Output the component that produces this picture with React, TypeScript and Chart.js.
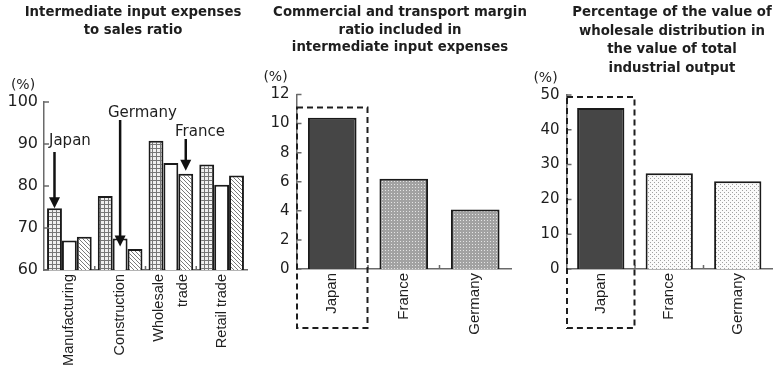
import React, { useEffect, useRef } from "react";
import { Chart, registerables } from "chart.js";

Chart.register(...registerables);

// ---- Panel 1: intermediate input expenses to sales ratio (%) ----
const sectors: (string | string[])[] = ["Manufacturing", "Construction", ["Wholesale", "trade"], "Retail trade"];
const ratioJapan = [74.7, 77.6, 90.8, 85.1];
const ratioGermany = [67.0, 67.5, 85.5, 80.3];
const ratioFrance = [67.9, 65.0, 82.9, 82.5];
const ratioTicks = [60, 70, 80, 90, 100];
const ratioTitle = ["Intermediate input expenses", "to sales ratio"];

// ---- Panel 2: commercial and transport margin ratio (%) ----
const countries = ["Japan", "France", "Germany"];
const marginRatio = [10.4, 6.2, 4.1];
const marginTicks = [0, 2, 4, 6, 8, 10, 12];
const marginTitle = ["Commercial and transport margin", "ratio included in", "intermediate input expenses"];

// ---- Panel 3: wholesale distribution share of total industrial output (%) ----
const shareOfOutput = [46.3, 27.5, 25.2];
const shareTicks = [0, 10, 20, 30, 40, 50];
const shareTitle = ["Percentage of the value of", "wholesale distribution in", "the value of total", "industrial output"];

const W = 774;
const H = 375;
const INK = "#1e1e1e";
const AXIS = "#6a6a6a";
const SANS = '"DejaVu Sans", "Liberation Sans", sans-serif';
const ARIAL = '"Liberation Sans", Arial, sans-serif';

function tile(ctx: CanvasRenderingContext2D, size: number, paint: (g: CanvasRenderingContext2D) => void) {
  const c = document.createElement("canvas");
  c.width = size;
  c.height = size;
  const g = c.getContext("2d")!;
  paint(g);
  return ctx.createPattern(c, "repeat")!;
}

const gridFill = (ctx: CanvasRenderingContext2D) =>
  tile(ctx, 4, (g) => {
    g.fillStyle = "#f0f0f0";
    g.fillRect(0, 0, 4, 4);
    g.fillStyle = "#777777";
    g.fillRect(0, 0, 4, 1);
    g.fillRect(0, 0, 1, 4);
  });

const hatchFill = (ctx: CanvasRenderingContext2D) =>
  tile(ctx, 4, (g) => {
    g.fillStyle = "#ffffff";
    g.fillRect(0, 0, 4, 4);
    g.fillStyle = "#7a7a7a";
    for (let i = 0; i < 4; i++) g.fillRect(i, i, 1, 1);
  });

const denseDots = (ctx: CanvasRenderingContext2D) =>
  tile(ctx, 3, (g) => {
    g.fillStyle = "#a2a2a2";
    g.fillRect(0, 0, 3, 3);
    g.fillStyle = "#e4e4e4";
    g.fillRect(1, 1, 1, 1);
  });

const sparseDots = (ctx: CanvasRenderingContext2D) =>
  tile(ctx, 4, (g) => {
    g.fillStyle = "#fafafa";
    g.fillRect(0, 0, 4, 4);
    g.fillStyle = "#a0a0a0";
    g.fillRect(0, 0, 1, 1);
    g.fillRect(2, 2, 1, 1);
  });

type Arrow = { ds: number; idx: number; label: string; textX: number; textY: number; tailY: number; tipOffset: number };
type Deco = {
  title: string[];
  titleX: number;
  titleY: number;
  titleGap: number;
  arrows?: Arrow[];
  box?: { idx: number; topValue: number; bottom: number };
};

// Multi-line category labels are centred on their tick (Chart.js starts the first line on it).
const centreMultiLineLabels = {
  id: "centreMultiLineLabels",
  beforeDraw(chart: any) {
    const xs = chart.scales.x;
    const items = xs.getLabelItems(chart.chartArea);
    if (items._centred) return;
    items._centred = true;
    items.forEach((it: any) => {
      if (Array.isArray(it.label) && it.label.length > 1) {
        const lh = it.font.lineHeight;
        it.options.translation[0] -= ((it.label.length - 1) * lh) / 2;
      }
    });
  },
};

function decoPlugin(d: Deco) {
  return {
    id: "deco",
    afterDraw(chart: any) {
      const { ctx, chartArea } = chart;
      const xs = chart.scales.x;
      const ys = chart.scales.y;
      ctx.save();

      // inward tick marks on both axes
      ctx.strokeStyle = AXIS;
      ctx.lineWidth = 1.5;
      ctx.beginPath();
      ys.ticks.forEach((t: any) => {
        const py = ys.getPixelForValue(t.value);
        ctx.moveTo(chartArea.left, py);
        ctx.lineTo(chartArea.left + 5, py);
      });
      const n = xs.ticks.length;
      for (let i = 1; i < n; i++) {
        const px = (xs.getPixelForValue(i - 1) + xs.getPixelForValue(i)) / 2;
        ctx.moveTo(px, chartArea.bottom);
        ctx.lineTo(px, chartArea.bottom - 4);
      }
      ctx.stroke();

      // unit label
      ctx.fillStyle = INK;
      ctx.font = `14px ${SANS}`;
      ctx.textAlign = "center";
      ctx.textBaseline = "middle";
      ctx.fillText("(%)", chartArea.left - 21, chartArea.top - 17);

      // panel title
      ctx.font = `bold 13.3px ${SANS}`;
      d.title.forEach((line, i) => ctx.fillText(line, d.titleX, d.titleY + i * d.titleGap));

      // dashed frame around a highlighted category
      if (d.box) {
        const bar = chart.getDatasetMeta(0).data[d.box.idx];
        const half = bar.x - chartArea.left - 0.5;
        const top = ys.getPixelForValue(d.box.topValue);
        ctx.strokeStyle = INK;
        ctx.lineWidth = 2;
        ctx.setLineDash([6, 4]);
        ctx.strokeRect(bar.x - half, top, half * 2, d.box.bottom - top);
        ctx.setLineDash([]);
      }

      // labelled arrows pointing at bars
      (d.arrows || []).forEach((a) => {
        const bar = chart.getDatasetMeta(a.ds).data[a.idx];
        const tip = bar.y + a.tipOffset;
        const head = 11;
        ctx.strokeStyle = "#111";
        ctx.fillStyle = "#111";
        ctx.lineWidth = 2.5;
        ctx.beginPath();
        ctx.moveTo(bar.x, a.tailY);
        ctx.lineTo(bar.x, tip - head + 1);
        ctx.stroke();
        ctx.beginPath();
        ctx.moveTo(bar.x - 5.5, tip - head);
        ctx.lineTo(bar.x + 5.5, tip - head);
        ctx.lineTo(bar.x, tip);
        ctx.closePath();
        ctx.fill();
        ctx.font = `15px ${SANS}`;
        ctx.textAlign = "left";
        ctx.textBaseline = "alphabetic";
        ctx.fillStyle = INK;
        ctx.fillText(a.label, a.textX, a.textY);
      });

      ctx.restore();
    },
  };
}

function yScale(ticks: number[], size: number, pad: number, width: number) {
  return {
    min: ticks[0],
    max: ticks[ticks.length - 1],
    beginAtZero: false,
    ticks: { stepSize: ticks[1] - ticks[0], padding: pad, color: INK, font: { family: SANS, size } },
    grid: { display: false, drawTicks: false },
    border: { display: true, color: AXIS, width: 1.5 },
    afterFit: (s: any) => {
      s.width = width;
    },
  };
}

function xScale(size: number, lineHeight: number, height: number) {
  return {
    ticks: {
      minRotation: 90,
      maxRotation: 90,
      autoSkip: false,
      padding: 4,
      color: INK,
      font: { family: ARIAL, size, lineHeight },
    },
    grid: { display: false, drawTicks: false },
    border: { display: true, color: AXIS, width: 1.5 },
    afterFit: (s: any) => {
      s.height = height;
    },
  };
}

const barStyle = { borderColor: "#1a1a1a", borderWidth: 2 };

function buildRatio(canvas: HTMLCanvasElement) {
  const ctx = canvas.getContext("2d")!;
  const base = ratioTicks[0];
  return new Chart(ctx, {
    type: "bar",
    data: {
      labels: sectors,
      datasets: [
        { label: "Japan", data: ratioJapan, base, backgroundColor: gridFill(ctx), ...barStyle },
        { label: "Germany", data: ratioGermany, base, backgroundColor: "#ffffff", ...barStyle },
        { label: "France", data: ratioFrance, base, backgroundColor: hatchFill(ctx), ...barStyle },
      ],
    },
    options: {
      responsive: false,
      animation: false,
      devicePixelRatio: 1,
      layout: { padding: { left: 0, right: W - 247, top: 102, bottom: 0 } },
      datasets: { bar: { categoryPercentage: 0.88, barPercentage: 1 } },
      plugins: { legend: { display: false }, tooltip: { enabled: false } },
      scales: { x: xScale(14.5, 1.65, H - 270), y: yScale(ratioTicks, 16, 6, 44) },
    } as any,
    plugins: [
      centreMultiLineLabels,
      decoPlugin({
        title: ratioTitle,
        titleX: 133,
        titleY: 13,
        titleGap: 17.5,
        arrows: [
          { ds: 0, idx: 0, label: "Japan", textX: 49, textY: 145, tailY: 152, tipOffset: 0 },
          { ds: 1, idx: 1, label: "Germany", textX: 108, textY: 117, tailY: 120, tipOffset: 8 },
          { ds: 2, idx: 2, label: "France", textX: 175, textY: 136, tailY: 139, tipOffset: -3 },
        ],
      }),
    ],
  });
}

function buildCountry(
  canvas: HTMLCanvasElement,
  values: number[],
  ticks: number[],
  others: (ctx: CanvasRenderingContext2D) => CanvasPattern,
  area: { left: number; right: number; top: number },
  barPct: number,
  deco: Deco
) {
  const ctx = canvas.getContext("2d")!;
  const fill = others(ctx);
  return new Chart(ctx, {
    type: "bar",
    data: {
      labels: countries,
      datasets: [
        {
          label: "share",
          data: values,
          backgroundColor: countries.map((c) => (c === "Japan" ? "#464646" : fill)),
          ...barStyle,
        },
      ],
    },
    options: {
      responsive: false,
      animation: false,
      devicePixelRatio: 1,
      layout: { padding: { left: area.left - 46.5, right: W - area.right, top: area.top, bottom: 0 } },
      datasets: { bar: { categoryPercentage: 1, barPercentage: barPct } },
      plugins: { legend: { display: false }, tooltip: { enabled: false } },
      scales: { x: xScale(15, 1.2, H - 269), y: yScale(ticks, 15, 7, 46.5) },
    } as any,
    plugins: [decoPlugin(deco)],
  });
}

function Panel({ build }: { build: (c: HTMLCanvasElement) => Chart }) {
  const ref = useRef<HTMLCanvasElement>(null);
  useEffect(() => {
    const chart = build(ref.current!);
    return () => chart.destroy();
  }, [build]);
  return (
    <canvas
      ref={ref}
      width={W}
      height={H}
      style={{ position: "absolute", left: 0, top: 0, width: W, height: H }}
    />
  );
}

const buildMargin = (c: HTMLCanvasElement) =>
  buildCountry(c, marginRatio, marginTicks, denseDots, { left: 296.5, right: 511, top: 94.5 }, 0.68, {
    title: marginTitle,
    titleX: 400,
    titleY: 13,
    titleGap: 17.5,
    box: { idx: 0, topValue: 11.1, bottom: 328 },
  });

const buildShare = (c: HTMLCanvasElement) =>
  buildCountry(c, shareOfOutput, shareTicks, sparseDots, { left: 566.5, right: 772, top: 95 }, 0.69, {
    title: shareTitle,
    titleX: 672,
    titleY: 13,
    titleGap: 18.4,
    box: { idx: 0, topValue: 49.4, bottom: 328 },
  });

export default function App() {
  return (
    <div style={{ position: "fixed", left: 0, top: 0, width: W, height: H, background: "#ffffff" }}>
      <Panel build={buildRatio} />
      <Panel build={buildMargin} />
      <Panel build={buildShare} />
    </div>
  );
}
